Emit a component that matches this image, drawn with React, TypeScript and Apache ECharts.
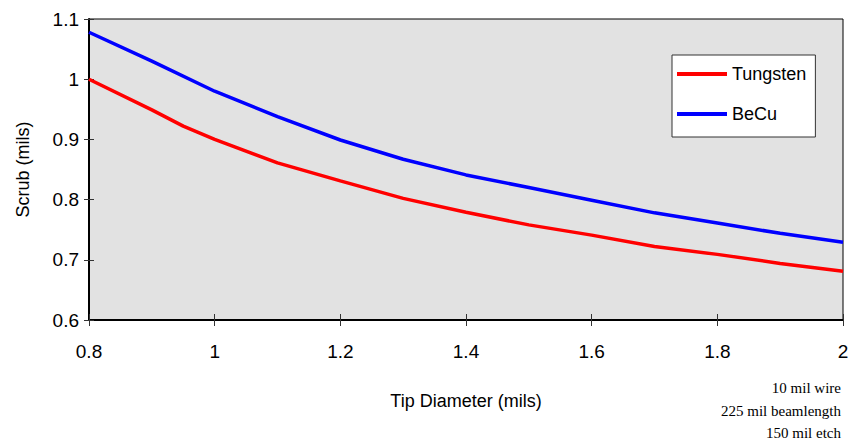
import React, { useEffect, useRef } from "react";
import * as echarts from "echarts";

const tipTungsten = [0.8, 0.9, 0.95, 1.0, 1.1, 1.2, 1.3, 1.4, 1.5, 1.6, 1.7, 1.8, 1.9, 2.0];
const scrubTungsten = [1.0, 0.949, 0.922, 0.9, 0.861, 0.831, 0.802, 0.779, 0.758, 0.741, 0.722, 0.709, 0.694, 0.681];
const tipBeCu = [0.8, 0.9, 1.0, 1.1, 1.2, 1.3, 1.4, 1.5, 1.6, 1.7, 1.8, 1.9, 2.0];
const scrubBeCu = [1.078, 1.03, 0.98, 0.938, 0.899, 0.867, 0.841, 0.82, 0.799, 0.778, 0.761, 0.744, 0.729];
const seriesNames = ["Tungsten", "BeCu"];
const notes = ["10 mil wire", "225 mil beamlength", "150 mil etch"];

const sans = "'Liberation Sans', Arial, sans-serif";
const serif = "'Liberation Serif', 'Times New Roman', serif";

export default function App() {
  const ref = useRef<HTMLDivElement>(null);
  useEffect(() => {
    if (!ref.current) return;
    const chart = echarts.init(ref.current, undefined, { renderer: "svg" });
    const xBase = { type: "value", min: 0.8, max: 2, interval: 0.2, gridIndex: 0 };
    const yBase = { type: "value", min: 0.6, max: 1.1, interval: 0.1, gridIndex: 0 };
    chart.setOption({
      animation: false,
      backgroundColor: "#ffffff",
      grid: {
        left: 89,
        top: 19,
        width: 754,
        height: 301,
        show: true,
        backgroundColor: "#e2e2e2",
        borderColor: "#000",
        borderWidth: 1,
      },
      legend: {
        left: 672,
        top: 55,
        orient: "vertical",
        data: seriesNames,
        icon: "rect",
        backgroundColor: "#ffffff",
        borderColor: "#333",
        borderWidth: 1,
        padding: [9, 9, 13, 5],
        itemGap: 20,
        itemWidth: 50,
        itemHeight: 4,
        textStyle: { fontFamily: sans, fontSize: 18, lineHeight: 20, color: "#000" },
      },
      xAxis: [
        {
          ...xBase,
          position: "bottom",
          name: "Tip Diameter (mils)",
          nameLocation: "middle",
          nameGap: 72,
          nameTextStyle: { fontFamily: sans, fontSize: 18, color: "#000" },
          axisLine: { show: true, lineStyle: { color: "#000", width: 2 } },
          axisTick: { show: true, inside: false, length: 6, lineStyle: { color: "#333", width: 1 } },
          axisLabel: { fontFamily: sans, fontSize: 19, color: "#000", margin: 22 },
          splitLine: { show: false },
        },
        {
          ...xBase,
          position: "bottom",
          axisLine: { show: false },
          axisTick: { show: true, inside: true, length: 6, lineStyle: { color: "#333", width: 1 } },
          axisLabel: { show: false },
          splitLine: { show: false },
        },
      ],
      yAxis: [
        {
          ...yBase,
          position: "left",
          name: "Scrub (mils)",
          nameLocation: "middle",
          nameGap: 57,
          nameTextStyle: { fontFamily: sans, fontSize: 18, color: "#000" },
          axisLine: { show: true, lineStyle: { color: "#000", width: 2 } },
          axisTick: { show: true, inside: false, length: 5, lineStyle: { color: "#333", width: 1 } },
          axisLabel: { fontFamily: sans, fontSize: 19, color: "#000", margin: 10 },
          splitLine: { show: false },
        },
        {
          ...yBase,
          position: "left",
          axisLine: { show: false },
          axisTick: { show: true, inside: true, length: 5, lineStyle: { color: "#333", width: 1 } },
          axisLabel: { show: false },
          splitLine: { show: false },
        },
      ],
      series: [
        {
          name: seriesNames[0],
          type: "line",
          symbol: "none",
          data: tipTungsten.map((x, i) => [x, scrubTungsten[i]]),
          lineStyle: { color: "#ff0000", width: 3.5 },
          itemStyle: { color: "#ff0000" },
        },
        {
          name: seriesNames[1],
          type: "line",
          symbol: "none",
          data: tipBeCu.map((x, i) => [x, scrubBeCu[i]]),
          lineStyle: { color: "#0000ff", width: 3.5 },
          itemStyle: { color: "#0000ff" },
        },
      ],
      graphic: notes.map((t, i) => ({
        type: "text",
        x: 841,
        y: 388 + i * 22.5,
        style: {
          text: t,
          fontFamily: serif,
          fontSize: 15,
          fill: "#000",
          align: "right",
          verticalAlign: "middle",
        },
      })),
    });
    return () => chart.dispose();
  }, []);
  return (
    <div
      ref={ref}
      style={{ position: "absolute", left: 0, top: 0, width: 857, height: 442 }}
    />
  );
}
